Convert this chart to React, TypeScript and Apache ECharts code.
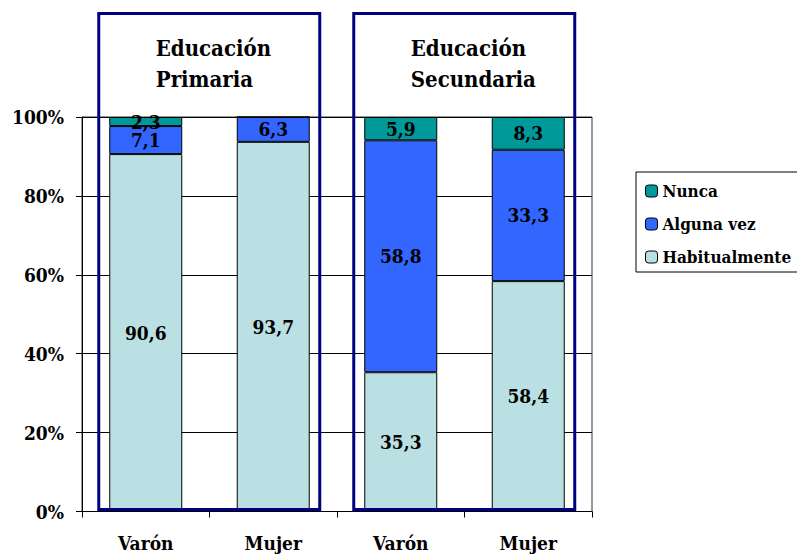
import React, { useEffect, useRef } from "react";
import * as echarts from "echarts";

const categories = ["Varón", "Mujer", "Varón", "Mujer"];
const habitualmente = [90.6, 93.7, 35.3, 58.4];
const algunaVez = [7.1, 6.3, 58.8, 33.3];
const nunca = [2.3, 0, 5.9, 8.3];
const groupTitles = ["Educación\nPrimaria", "Educación\nSecundaria"];
const FONT = "DejaVu Serif Condensed";

export default function App() {
  const ref = useRef<HTMLDivElement>(null);
  useEffect(() => {
    if (!ref.current) return;
    const chart = echarts.init(ref.current, null, { renderer: "svg" });
    const label = {
      show: true,
      position: "inside",
      color: "#000",
      fontFamily: FONT,
      fontWeight: "bold",
      fontSize: 19,
      formatter: (p: any) => (p.value ? String(p.value).replace(".", ",") : ""),
    };
    const mk = (name: string, data: number[], color: string) => ({
      name,
      type: "bar",
      stack: "t",
      data,
      barWidth: 73,
      itemStyle: { color, borderColor: "#000", borderWidth: 1 },
      label,
    });
    chart.setOption({
      animation: false,
      textStyle: { fontFamily: FONT },
      grid: {
        left: 82,
        right: 205,
        top: 117,
        bottom: 45.5,
        show: true,
        borderColor: "#333",
        borderWidth: 1,
      },
      legend: {
        orient: "vertical",
        left: 636,
        top: 172,
        data: ["Nunca", "Alguna vez", "Habitualmente"],
        padding: [9, 12, 5, 9],
        itemWidth: 12,
        itemHeight: 12,
        itemGap: 13,
        itemTextGap: 8,
        borderColor: "#000",
        borderWidth: 1,
        backgroundColor: "#fff",
        textStyle: {
          fontFamily: FONT,
          fontWeight: "bold",
          fontSize: 17,
          lineHeight: 20,
          color: "#000",
        },
        itemStyle: { borderColor: "#000", borderWidth: 1 },
      },
      xAxis: {
        type: "category",
        data: categories,
        axisLine: { lineStyle: { color: "#000", width: 1 } },
        axisTick: { show: true, length: 6, lineStyle: { color: "#000" } },
        axisLabel: {
          margin: 22,
          color: "#000",
          fontFamily: FONT,
          fontWeight: "bold",
          fontSize: 19,
        },
      },
      yAxis: {
        type: "value",
        min: 0,
        max: 100,
        interval: 20,
        axisLine: { show: true, lineStyle: { color: "#000", width: 1 } },
        axisTick: { show: true, length: 6, lineStyle: { color: "#000" } },
        splitLine: { lineStyle: { color: "#000", width: 1 } },
        axisLabel: {
          formatter: "{value}%",
          margin: 18,
          color: "#000",
          fontFamily: FONT,
          fontWeight: "bold",
          fontSize: 19,
        },
      },
      series: [
        mk("Habitualmente", habitualmente, "#BBE0E3"),
        mk("Alguna vez", algunaVez, "#3366FF"),
        mk("Nunca", nunca, "#009999"),
      ],
    });

    const px = (i: number, v: number) =>
      chart.convertToPixel({ gridIndex: 0 }, [i, v]) as number[];
    const graphics: any[] = [];
    groupTitles.forEach((title, g) => {
      const l = px(g * 2, 0);
      const r = px(g * 2 + 1, 0);
      const left = l[0] - 47;
      const right = r[0] + 46.5;
      const top = 13.5;
      const bottom = l[1] - 2;
      graphics.push({
        type: "rect",
        z: 100,
        shape: { x: left, y: top, width: right - left, height: bottom - top },
        style: { fill: "none", stroke: "#000080", lineWidth: 3 },
      });
      graphics.push({
        type: "text",
        z: 100,
        x: left + 57,
        y: 32.5,
        style: {
          text: title,
          fontFamily: FONT,
          fontWeight: "bold",
          fontSize: 22,
          lineHeight: 31,
          fill: "#000",
          textAlign: "left",
          textVerticalAlign: "top",
        },
      });
    });
    chart.setOption({ graphic: graphics });
    return () => chart.dispose();
  }, []);
  return (
    <div
      ref={ref}
      style={{ position: "absolute", left: 0, top: 0, width: 797, height: 557 }}
    />
  );
}
